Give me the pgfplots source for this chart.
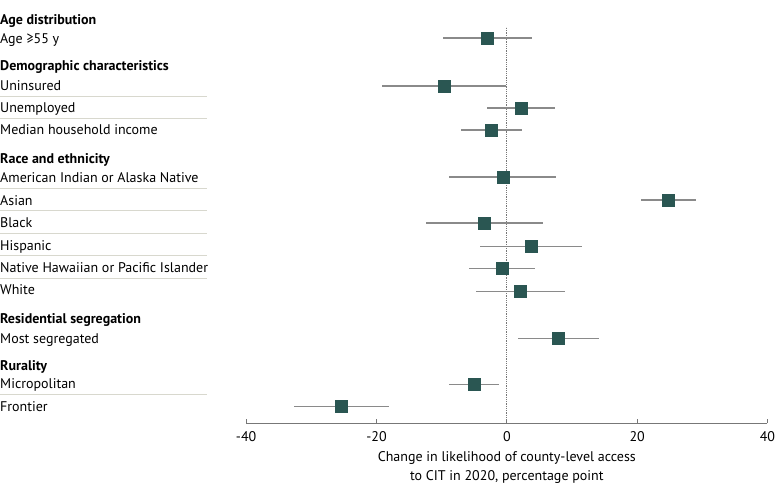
\documentclass[border=0pt]{standalone}
\usepackage{fontspec}
\setmainfont{PT Sans}
\usepackage{pgfplots}
\usepackage{pgfplotstable}
\pgfplotsset{compat=1.18}
\definecolor{sq}{HTML}{2A5652}
\definecolor{ci}{HTML}{8A8A8A}
\definecolor{sep}{HTML}{D8D8CE}
\definecolor{ax}{HTML}{777777}
% est  row(=423-px)  plus  minus
\pgfplotstableread{
est   row  ep   em
-3.0  385  6.9  6.8
-9.6  337  9.5  9.5
2.2   315  5.2  5.3
-2.4  293  4.8  4.7
-0.6  246  8.1  8.3
24.8  223  4.3  4.2
-3.4  200  8.9  9.0
3.7   177  7.9  7.8
-0.7  155  5.1  5.1
2.1   132  6.9  6.8
7.9   85   6.3  6.2
-5.0  39   3.8  3.9
-25.4 17   7.3  7.2
}\datatab
\newcommand{\lbl}[2]{\node[anchor=base west,inner sep=0pt] at ([xshift=-246pt]axis cs:-40,#1) {#2};}
\newcommand{\sepl}[1]{\draw[sep,line width=0.8pt] ([xshift=-246pt]axis cs:-40,#1) -- ([xshift=-39pt]axis cs:-40,#1);}
\begin{document}
\fontsize{14}{16}\selectfont
\begin{tikzpicture}
\begin{axis}[
  scale only axis, width=521pt, height=423pt,
  xmin=-40, xmax=40, ymin=0, ymax=423,
  clip=false,
  axis x line*=bottom, axis y line=none,
  x axis line style={ax, line width=1pt},
  xtick={-40,-20,0,20,40},
  xtick align=inside, major tick length=4.5pt,
  xtick style={ax, line width=1pt},
  xticklabel style={font=\fontsize{14}{16}\selectfont, yshift=-3pt},
  /pgf/number format/assume math mode=true,
  xticklabel={\pgfmathprintnumber[assume math mode=true]{\tick}},
  xlabel={Change in likelihood of county-level access\\to CIT in 2020, percentage point},
  xlabel style={align=center, font=\fontsize{14}{19}\selectfont, yshift=-1pt},
  ytick=\empty,
]
\path[use as bounding box] ([xshift=-246pt]axis cs:-40,423) rectangle (axis cs:41.92,-76);
\addplot[ax, densely dotted, line width=0.8pt] coordinates {(0,0) (0,396)};
\addplot[only marks, mark=square*, mark size=6pt, mark options={fill=sq, draw=sq},
  error bars/.cd, x dir=both, x explicit, error mark=none,
  error bar style={ci, line width=1.3pt}]
  table[x=est, y=row, x error plus=ep, x error minus=em] {\datatab};
\lbl{399}{\textbf{Age distribution}}
\lbl{380}{Age ≥55 y}
\lbl{352.3}{\textbf{Demographic characteristics}}
\lbl{333}{Uninsured}
\lbl{311}{Unemployed}
\lbl{288.5}{Median household income}
\lbl{260}{\textbf{Race and ethnicity}}
\lbl{241}{American Indian or Alaska Native}
\lbl{218}{Asian}
\lbl{196}{Black}
\lbl{173}{Hispanic}
\lbl{151}{Native Hawaiian or Pacific Islander}
\lbl{129}{White}
\lbl{100}{\textbf{Residential segregation}}
\lbl{80}{Most segregated}
\lbl{53}{\textbf{Rurality}}
\lbl{35}{Micropolitan}
\lbl{12}{Frontier}
\sepl{326.3}
\sepl{305}
\sepl{234.7}
\sepl{212.3}
\sepl{190}
\sepl{167.3}
\sepl{144.7}
\sepl{28.7}
\end{axis}
\end{tikzpicture}
\end{document}
